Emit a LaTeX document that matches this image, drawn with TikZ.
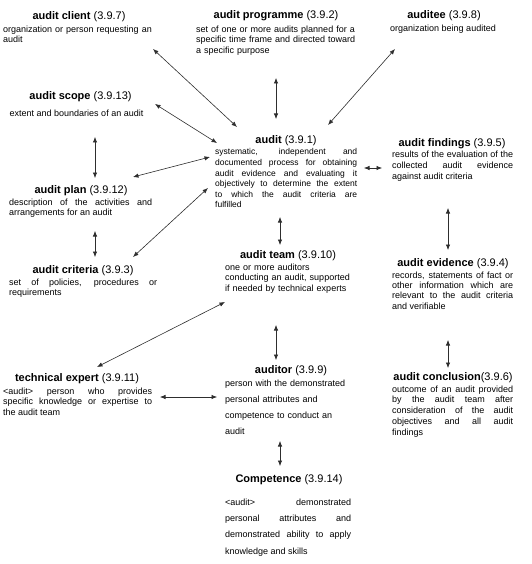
\documentclass[tikz,border=0pt]{standalone}
\usepackage{fontspec}
\setmainfont{Liberation Sans}
\usetikzlibrary{arrows.meta}
\begin{document}
\begin{tikzpicture}[x=1pt,y=-1pt,
  ttl/.style={inner sep=0pt,font=\fontsize{11}{13}\selectfont},
  dsc/.style={inner sep=0pt,anchor=north west,align=justify,font=\fontsize{9}{10.6}\selectfont},
  dscl/.style={dsc,align=left},
  dbl/.style={draw=black!82,line width=0.6pt,{Latex[length=5.5pt,width=4.4pt]}-{Latex[length=5.5pt,width=4.4pt]}}]
\useasboundingbox (0,0) rectangle (531,564);
% audit client
\node[ttl] (clientT) at (79,17) {\textbf{audit client} (3.9.7)};
\node[dscl,text width=152pt] (clientD) at (3,25.5) {organization or person requesting an\\audit};
% audit programme
\node[ttl] (progT) at (276,16) {\textbf{audit programme} (3.9.2)};
\node[dscl,text width=164pt,font=\fontsize{9}{10.5}\selectfont] (progD) at (196,25.5) {set of one or more audits planned for a\\specific time frame and directed toward\\a specific purpose};
% auditee
\node[ttl] (auditeeT) at (444,16) {\textbf{auditee} (3.9.8)};
\node[inner sep=0pt,font=\fontsize{9}{10.6}\selectfont] (auditeeD) at (443,29) {organization being audited};
% audit scope
\node[ttl] (scopeT) at (80.5,97) {\textbf{audit scope} (3.9.13)};
\node[inner sep=0pt,font=\fontsize{9}{10.6}\selectfont] (scopeD) at (76.5,113) {extent and boundaries of an audit};
% audit plan
\node[ttl] (planT) at (81,191) {\textbf{audit plan} (3.9.12)};
\node[dsc,text width=143pt] (planD) at (9,198.5) {description of the activities and\linebreak arrangements for an audit};
% audit criteria
\node[ttl] (critT) at (83,271) {\textbf{audit criteria} (3.9.3)};
\node[dsc,text width=148pt] (critD) at (9,278.5) {set of policies, procedures or\linebreak requirements};
% audit
\node[ttl] (auditT) at (286,141) {\textbf{audit} (3.9.1)};
\node[dsc,text width=142pt,font=\fontsize{8.5}{10.6}\selectfont] (auditD) at (215,148.5) {systematic, independent and\linebreak documented process for obtaining\linebreak audit evidence and evaluating it\linebreak objectively to determine the extent\linebreak to which the audit criteria are\linebreak fulfilled};
% audit team
\node[ttl] (teamT) at (288,256) {\textbf{audit team} (3.9.10)};
\node[dscl,text width=130pt,font=\fontsize{9}{10.5}\selectfont] (teamD) at (225,263.5) {one or more auditors\\conducting an audit, supported\\if needed by technical experts};
% audit findings
\node[ttl] (findT) at (452,144) {\textbf{audit findings} (3.9.5)};
\node[dsc,text width=121pt,font=\fontsize{9}{11}\selectfont] (findD) at (392,150.5) {results of the evaluation of the\linebreak collected audit evidence\linebreak against audit criteria};
% audit evidence
\node[ttl] (evidT) at (453,264) {\textbf{audit evidence} (3.9.4)};
\node[dsc,text width=121pt,font=\fontsize{9}{10.3}\selectfont] (evidD) at (392,271.5) {records, statements of fact or\linebreak other information which are\linebreak relevant to the audit criteria\linebreak and verifiable};
% technical expert
\node[ttl] (techT) at (77,379) {\textbf{technical expert} (3.9.11)};
\node[dsc,text width=149pt,font=\fontsize{9}{10.5}\selectfont] (techD) at (3,387.5) {<audit> person who provides\linebreak specific knowledge or expertise to\linebreak the audit team};
% auditor
\node[ttl] (auditorT) at (291,371) {\textbf{auditor} (3.9.9)};
\node[dscl,text width=130pt,font=\fontsize{9}{16}\selectfont] (auditorD) at (225,379.5) {person with the demonstrated\\personal attributes and\\competence to conduct an\\audit};
% audit conclusion
\node[ttl] (conclT) at (453,378) {\textbf{audit conclusion}(3.9.6)};
\node[dsc,text width=121pt,font=\fontsize{9}{10.75}\selectfont] (conclD) at (392,385.5) {outcome of an audit provided\linebreak by the audit team after\linebreak consideration of the audit\linebreak objectives and all audit\linebreak findings};
% competence
\node[ttl] (compT) at (289,480) {\textbf{Competence} (3.9.14)};
\node[dsc,text width=126pt,font=\fontsize{9}{16.3}\selectfont] (compD) at (225,498.5) {<audit> demonstrated\linebreak personal attributes and\linebreak demonstrated ability to apply\linebreak knowledge and skills};
% connector end points
\coordinate (c1) at (153,49);  \coordinate (a1) at (237,127);
\coordinate (p1) at (276,78);  \coordinate (a2) at (276,119);
\coordinate (e1) at (395,49);  \coordinate (a3) at (328,125);
\coordinate (s1) at (155,104); \coordinate (a4) at (217,143);
\coordinate (l1) at (133,177); \coordinate (a5) at (210,157);
\coordinate (r1) at (133,257); \coordinate (a6) at (208,188);
\coordinate (s2) at (95,137);  \coordinate (l2) at (95,178);
\coordinate (l3) at (95,231);  \coordinate (r2) at (95,257);
\coordinate (a7) at (364,168); \coordinate (f1) at (382,168);
\coordinate (a8) at (280,217); \coordinate (t1) at (280,245);
\coordinate (f2) at (448,208); \coordinate (v1) at (448,250);
\coordinate (v2) at (448,340); \coordinate (n1) at (448,368);
\coordinate (t2) at (225,302); \coordinate (x1) at (97,367);
\coordinate (x2) at (160,397); \coordinate (o1) at (217,397);
\coordinate (t3) at (276,325); \coordinate (o2) at (276,360);
\coordinate (o3) at (280,441); \coordinate (m1) at (280,466);
% connectors
\draw[dbl] (c1) -- (a1);
\draw[dbl] (p1) -- (a2);
\draw[dbl] (e1) -- (a3);
\draw[dbl] (s1) -- (a4);
\draw[dbl] (l1) -- (a5);
\draw[dbl] (r1) -- (a6);
\draw[dbl] (s2) -- (l2);
\draw[dbl] (l3) -- (r2);
\draw[dbl] (a7) -- (f1);
\draw[dbl] (a8) -- (t1);
\draw[dbl] (f2) -- (v1);
\draw[dbl] (v2) -- (n1);
\draw[dbl] (t2) -- (x1);
\draw[dbl] (x2) -- (o1);
\draw[dbl] (t3) -- (o2);
\draw[dbl] (o3) -- (m1);
\end{tikzpicture}
\end{document}
